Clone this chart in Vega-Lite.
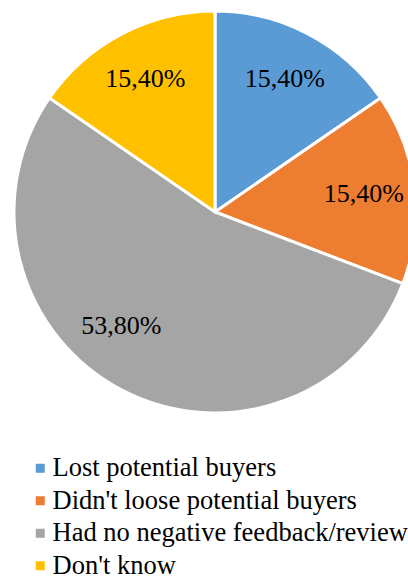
{
  "$schema": "https://vega.github.io/schema/vega-lite/v6.json",
  "width": 386,
  "height": 424,
  "autosize": "none",
  "padding": {"left": 22, "top": 0, "right": 0, "bottom": 152},
  "background": "white",
  "data": {
    "values": [
      {"category": "Lost potential buyers", "value": 15.4, "label": "15,40%", "order": 1},
      {"category": "Didn't loose potential buyers", "value": 15.4, "label": "15,40%", "order": 2},
      {"category": "Had no negative feedback/review", "value": 53.8, "label": "53,80%", "order": 3},
      {"category": "Don't know", "value": 15.4, "label": "15,40%", "order": 4}
    ]
  },
  "encoding": {
    "theta": {"field": "value", "type": "quantitative", "stack": true},
    "order": {"field": "order", "type": "quantitative"}
  },
  "layer": [
    {
      "mark": {"type": "arc", "outerRadius": 201, "stroke": "white", "strokeWidth": 3},
      "encoding": {
        "color": {
          "field": "category",
          "type": "nominal",
          "scale": {
            "domain": ["Lost potential buyers", "Didn't loose potential buyers", "Had no negative feedback/review", "Don't know"],
            "range": ["#5B9BD5", "#ED7D31", "#A5A5A5", "#FFC000"]
          },
          "legend": {
            "title": null,
            "orient": "none",
            "legendX": 5,
            "legendY": 455,
            "symbolType": "square",
            "symbolSize": 81,
            "symbolStrokeWidth": 0,
            "labelFont": "Liberation Serif",
            "labelFontSize": 26.5,
            "labelColor": "#000000",
            "labelOffset": -1,
            "labelLimit": 500,
            "rowPadding": 5.5,
            "padding": 0
          }
        }
      }
    },
    {
      "mark": {"type": "text", "radius": 150, "font": "Liberation Serif", "fontSize": 26, "color": "black"},
      "encoding": {
        "text": {"condition": {"test": "datum.order !== 3", "field": "label"}, "value": ""}
      }
    },
    {
      "mark": {"type": "text", "radius": 150, "dx": -24, "dy": -19, "font": "Liberation Serif", "fontSize": 26, "color": "black"},
      "encoding": {
        "text": {"condition": {"test": "datum.order === 3", "field": "label"}, "value": ""}
      }
    }
  ]
}
